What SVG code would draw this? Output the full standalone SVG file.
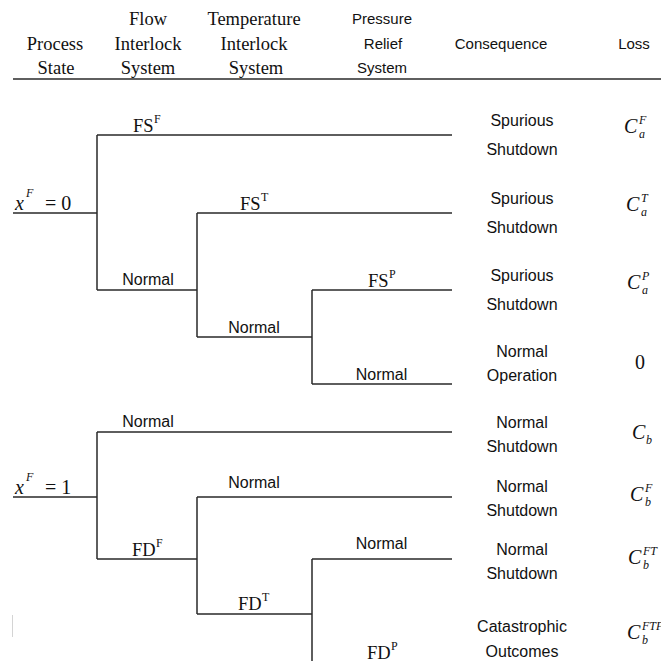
<svg xmlns="http://www.w3.org/2000/svg" width="661" height="661" viewBox="0 0 661 661">
<style>
.hs{font-family:"Liberation Serif","Times New Roman",serif;font-size:18.5px;fill:#111;text-anchor:middle}
.hn{font-family:"Liberation Sans",Arial,sans-serif;font-size:15px;fill:#111;text-anchor:middle}
.sn{font-family:"Liberation Sans",Arial,sans-serif;font-size:16px;fill:#111;text-anchor:middle}
.br{font-family:"Liberation Serif","Times New Roman",serif;font-size:18.5px;fill:#111}
.sup{font-size:12px}
.m{font-family:"Liberation Serif","Times New Roman",serif;font-size:20px;fill:#111;font-style:italic}
.ms{font-size:12px}
.up{font-style:normal}
.ln{stroke:#2a2a2a;stroke-width:1.5;fill:none}
</style>
<rect width="661" height="661" fill="#fff"/>
<g id="header">
<text class="hs" x="55" y="50">Process</text>
<text class="hs" x="56" y="74">State</text>
<text class="hs" x="148" y="25">Flow</text>
<text class="hs" x="148" y="50">Interlock</text>
<text class="hs" x="148" y="74">System</text>
<text class="hs" x="254" y="25">Temperature</text>
<text class="hs" x="254" y="50">Interlock</text>
<text class="hs" x="256" y="74">System</text>
<text class="hn" x="382" y="24">Pressure</text>
<text class="hn" x="383" y="49">Relief</text>
<text class="hn" x="382" y="73">System</text>
<text class="hn" x="501" y="49">Consequence</text>
<text class="hn" x="634" y="49">Loss</text>
<line class="ln" x1="13" y1="79" x2="661" y2="79"/>
</g>
<g id="connectors">
<path class="ln" d="M13,213H97M97,135V290M97,135H452M97,290H197M197,213V337M197,213H452M197,337H312M312,290V384M312,290H452M312,384H452"/>
<path class="ln" d="M13,497H97M97,432V559M97,432H452M97,559H197M197,497V614M197,497H452M197,614H312M312,559V661M312,559H452"/>
<line x1="12.5" y1="615" x2="12.5" y2="637" stroke="#d4d4d4" stroke-width="1"/>
</g>
<g id="state-0">
<text class="m" x="15" y="210">x<tspan class="ms" x="26" y="197">F</tspan><tspan class="up" x="45" y="210">= 0</tspan></text>
</g>
<g id="state-1">
<text class="m" x="15" y="494">x<tspan class="ms" x="26" y="481">F</tspan><tspan class="up" x="45" y="494">= 1</tspan></text>
</g>
<g id="branch-labels">
<text class="br" x="133" y="132">FS<tspan class="sup" x="154" y="123">F</tspan></text>
<text class="sn" x="148" y="285">Normal</text>
<text class="br" x="240" y="210">FS<tspan class="sup" x="261" y="201">T</tspan></text>
<text class="sn" x="254" y="333">Normal</text>
<text class="br" x="368" y="287">FS<tspan class="sup" x="389" y="278">P</tspan></text>
<text class="sn" x="381.5" y="380">Normal</text>
<text class="sn" x="148" y="427">Normal</text>
<text class="br" x="132" y="556">FD<tspan class="sup" x="156" y="547">F</tspan></text>
<text class="sn" x="254" y="488">Normal</text>
<text class="br" x="238" y="610">FD<tspan class="sup" x="262" y="601">T</tspan></text>
<text class="sn" x="381.5" y="549">Normal</text>
<text class="br" x="367" y="659">FD<tspan class="sup" x="391" y="650">P</tspan></text>
</g>
<g id="outcome-1"><text class="sn" x="522" y="126">Spurious</text><text class="sn" x="522" y="155">Shutdown</text>
<text class="m" x="624" y="133">C<tspan class="ms" x="639" y="124">F</tspan><tspan class="ms" x="639" y="138">a</tspan></text></g>
<g id="outcome-2"><text class="sn" x="522" y="204">Spurious</text><text class="sn" x="522" y="233">Shutdown</text>
<text class="m" x="626" y="211">C<tspan class="ms" x="641" y="202">T</tspan><tspan class="ms" x="641" y="216">a</tspan></text></g>
<g id="outcome-3"><text class="sn" x="522" y="281">Spurious</text><text class="sn" x="522" y="310">Shutdown</text>
<text class="m" x="627" y="289">C<tspan class="ms" x="642" y="280">P</tspan><tspan class="ms" x="642" y="294">a</tspan></text></g>
<g id="outcome-4"><text class="sn" x="522" y="357">Normal</text><text class="sn" x="522" y="381">Operation</text>
<text class="m up" x="635" y="369">0</text></g>
<g id="outcome-5"><text class="sn" x="522" y="428">Normal</text><text class="sn" x="522" y="452">Shutdown</text>
<text class="m" x="632" y="439">C<tspan class="ms" x="646" y="444">b</tspan></text></g>
<g id="outcome-6"><text class="sn" x="522" y="492">Normal</text><text class="sn" x="522" y="516">Shutdown</text>
<text class="m" x="630" y="501">C<tspan class="ms" x="645" y="492">F</tspan><tspan class="ms" x="645" y="506">b</tspan></text></g>
<g id="outcome-7"><text class="sn" x="522" y="555">Normal</text><text class="sn" x="522" y="579">Shutdown</text>
<text class="m" x="628" y="564">C<tspan class="ms" x="643" y="555">FT</tspan><tspan class="ms" x="643" y="569">b</tspan></text></g>
<g id="outcome-8"><text class="sn" x="522" y="632">Catastrophic</text><text class="sn" x="522" y="657">Outcomes</text>
<text class="m" x="627" y="639">C<tspan class="ms" x="642" y="630">FTP</tspan><tspan class="ms" x="642" y="644">b</tspan></text></g>
</svg>
